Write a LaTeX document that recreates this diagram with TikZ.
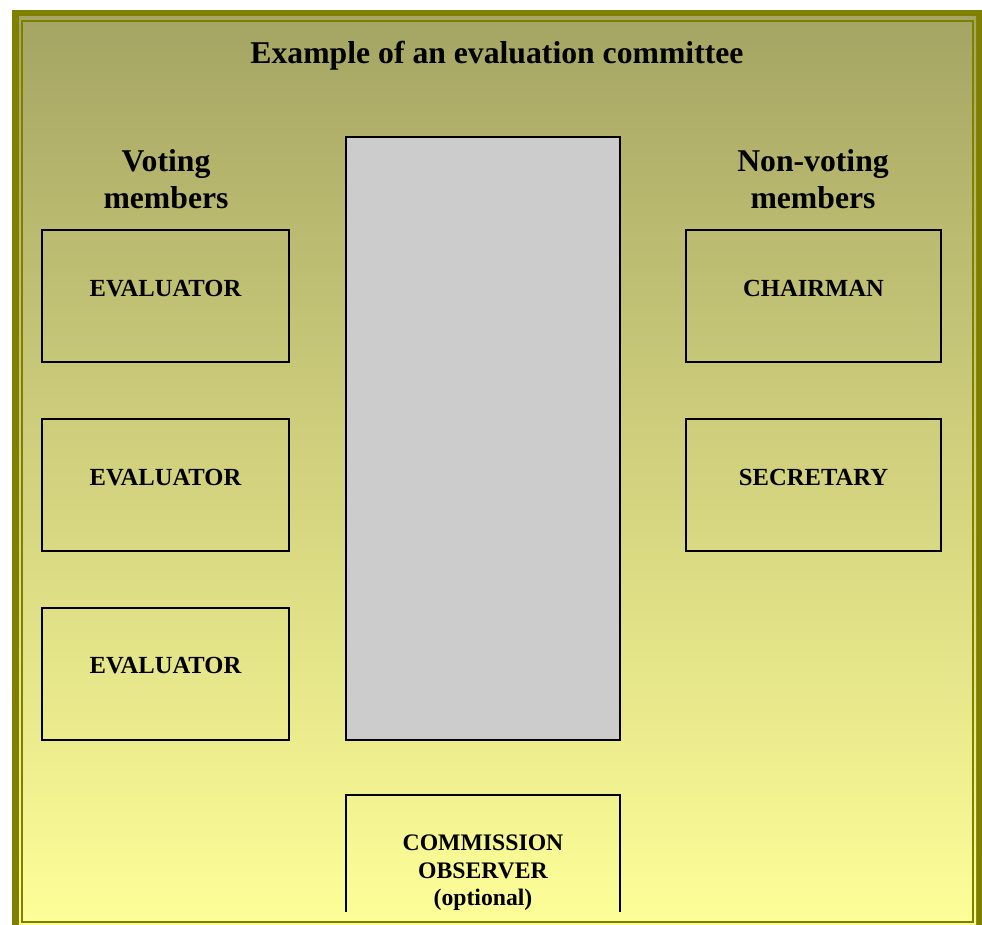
\documentclass[tikz,border=0pt]{standalone}
\usepackage{fontspec}
\setmainfont{Liberation Serif}
\usetikzlibrary{positioning}
\definecolor{frameolive}{RGB}{128,128,0}
\definecolor{bgtop}{RGB}{165,165,100}
\definecolor{bgbottom}{RGB}{255,255,153}
\definecolor{panelgrey}{RGB}{204,204,204}

\begin{document}
\begin{tikzpicture}[x=1pt,y=-1pt,
    member/.style={draw=black, line width=2pt, minimum width=247pt, minimum height=132pt,
      inner sep=0pt, text height=0pt, text depth=0pt,
      font=\fontsize{24.6}{27.5}\selectfont\bfseries},
    heading/.style={align=center, inner sep=0pt, font=\fontsize{31.7}{37}\selectfont\bfseries}]
  \useasboundingbox (0,0) rectangle (982,925);
  % frame and background
  \begin{scope}
    \clip (0,0) rectangle (982,925);
    \fill[frameolive] (12,10) rectangle (983,932);
    \fill[top color=bgtop, bottom color=bgbottom] (19,17) rectangle (976,930);
    \draw[frameolive, line width=2pt] (22,21) rectangle (973,922);
  \end{scope}
  % headings
  \node[heading] (title) at (497,56) {Example of an evaluation committee};
  \node[heading] (voting) at (166,179) {Voting\\members};
  \node[heading] (nonvoting) at (813,179) {Non-voting\\members};
  % voting members
  \node[member] (eval1) at (165.5,296) {EVALUATOR};
  \node[member] (eval2) at (165.5,485) {EVALUATOR};
  \node[member] (eval3) at (165.5,673.5) {EVALUATOR};
  % non-voting members
  \node[member, minimum width=255pt] (chairman) at (813.5,296) {CHAIRMAN};
  \node[member, minimum width=255pt] (secretary) at (813.5,485) {SECRETARY};
  % middle panel
  \node[draw=black, line width=2pt, fill=panelgrey, minimum width=274pt,
    minimum height=603pt, inner sep=0pt] (panel) at (483,438.5) {};
  % observer, open at the bottom
  \node[minimum width=274pt, minimum height=117pt, inner sep=0pt] (observer) at (483,853.5) {};
  \draw[line width=2pt] (observer.south west) |- (observer.north east) -- (observer.south east);
  \node[align=center, inner sep=0pt, font=\fontsize{23.7}{27.5}\selectfont\bfseries]
    (obstext) at (483,873) {COMMISSION\\OBSERVER\\(optional)};
\end{tikzpicture}
\end{document}
